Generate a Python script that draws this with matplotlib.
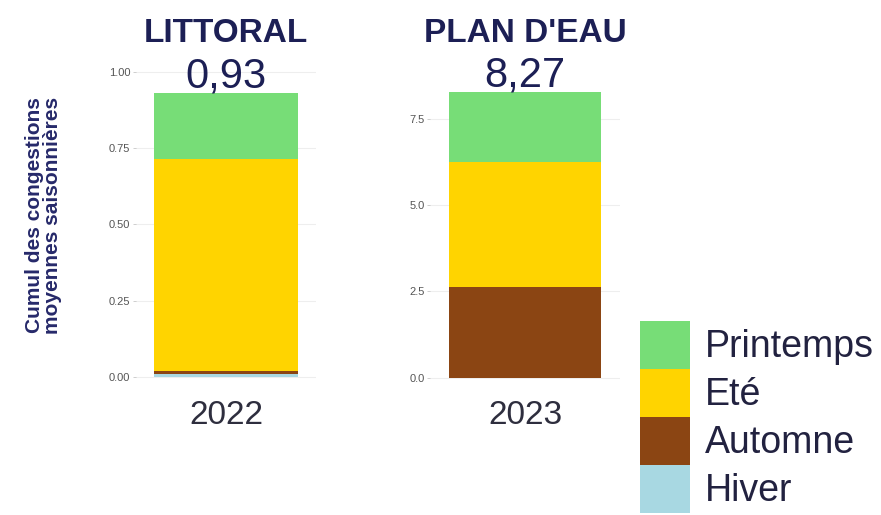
import matplotlib
matplotlib.use('Agg')
import matplotlib.pyplot as plt
from matplotlib.patches import Patch

plt.rcParams['font.family'] = ['Liberation Sans', 'DejaVu Sans']

# données
saisons = ['Hiver', 'Automne', 'Eté', 'Printemps']
couleurs = ['#a8d8e2', '#8b4513', '#ffd400', '#77dd77']

littoral_annee = '2022'
littoral_vals = [0.008, 0.012, 0.696, 0.214]
littoral_total = '0,93'

plan_annee = '2023'
plan_vals = [0.0, 2.63, 3.62, 2.02]
plan_total = '8,27'

navy = '#1c1f55'
fig = plt.figure(figsize=(8.81, 5.15), dpi=100)

W, H = 881, 515


def panneau(x0, x1, vals, annee, total, titre, ylim, ticks, ticklabels):
    bottom = 1 - 384.5 / H
    top = 1 - 46 / H
    ax = fig.add_axes([x0 / W, bottom, (x1 - x0) / W, top - bottom])
    base = 0
    for v, c in zip(vals, couleurs):
        ax.bar(0, v, bottom=base, width=0.8, color=c, linewidth=0, zorder=2)
        base += v
    ax.set_xlim(-0.5, 0.5)
    ax.set_ylim(*ylim)
    ax.set_yticks(ticks)
    ax.set_yticklabels(ticklabels)
    ax.set_xticks([0])
    ax.set_xticklabels([annee])
    ax.tick_params(axis='x', length=0, pad=11, labelsize=24, labelcolor='#2e2e3e')
    ax.tick_params(axis='y', length=2, width=0.5, color='#bbbbbb', pad=2,
                   labelsize=8, labelcolor='#555555')
    ax.grid(axis='y', color='#eeeeee', linewidth=0.8, zorder=0)
    for s in ax.spines.values():
        s.set_visible(False)
    ax.annotate(total, xy=(0, base), xytext=(0, 4), textcoords='offset points',
                ha='center', va='baseline', fontsize=30, color=navy)
    cx = (x0 + x1) / 2
    fig.text(cx / W, 1 - 42 / H, titre, ha='center', va='baseline',
             fontsize=24, fontweight='bold', color=navy)
    return ax


ax1 = panneau(136, 316, littoral_vals, littoral_annee, littoral_total, 'LITTORAL',
              (-0.025, 1.085), [0, 0.25, 0.5, 0.75, 1.0],
              ['0.00', '0.25', '0.50', '0.75', '1.00'])
ax1.set_ylabel('Cumul des congestions\nmoyennes saisonnières', fontsize=15,
               fontweight='bold', color='#26296a', linespacing=0.95)
ax1.yaxis.set_label_coords((62 - 136) / 180, 0.5)

ax2 = panneau(430, 620, plan_vals, plan_annee, plan_total, "PLAN D'EAU",
              (-0.2, 9.6), [0, 2.5, 5.0, 7.5], ['0.0', '2.5', '5.0', '7.5'])

handles = [Patch(facecolor=c, edgecolor='none', label=s)
           for s, c in zip(saisons[::-1], couleurs[::-1])]
fig.legend(handles=handles, loc='upper left', bbox_to_anchor=(640 / W, 1 - 321 / H),
           frameon=False, fontsize=27, handlelength=1.33, handleheight=1.59,
           labelspacing=0.0, handletextpad=0.4, borderpad=0, borderaxespad=0,
           labelcolor='#222240')

fig.savefig('out.png', dpi=100, facecolor='white')
